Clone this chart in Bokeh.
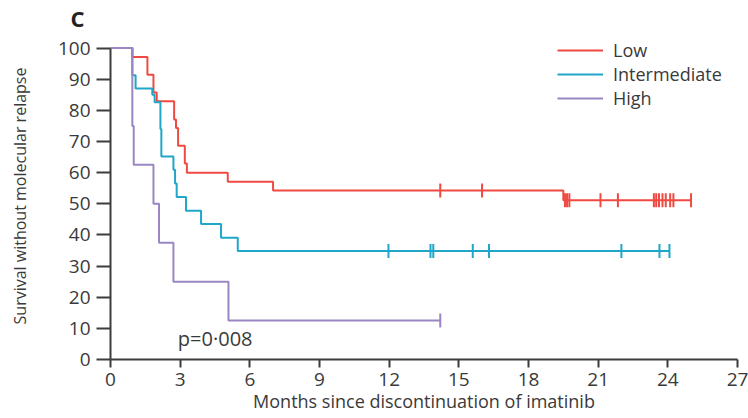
import numpy as np
from bokeh.plotting import figure
from bokeh.models import Range1d, FixedTicker, Legend, LegendItem, Label
from bokeh.embed import file_html
from bokeh.resources import INLINE

# ---- data ----
groups = ["Low", "Intermediate", "High"]
colors = ["#ef4a42", "#1fa6c8", "#9a86c2"]

low_t = [0, 0.94, 1.59, 1.85, 1.99, 2.74, 2.82, 2.91, 3.2, 3.29, 5.05, 7.0, 19.5, 25.0]
low_s = [100, 97.1, 91.4, 85.7, 82.9, 77.1, 74.3, 68.6, 62.9, 60.0, 57.1, 54.3, 51.1, 51.1]
low_cens = [14.2, 16.0, 19.57, 19.66, 19.76, 21.1, 21.85, 23.4, 23.5, 23.62,
            23.77, 23.91, 24.1, 24.24, 25.0]

int_t = [0, 0.94, 1.08, 1.8, 1.9, 2.15, 2.19, 2.71, 2.78, 2.85, 3.25, 3.9, 4.76, 5.48, 24.07]
int_s = [100, 91.3, 87.0, 85.0, 82.6, 74.0, 65.2, 60.9, 56.5, 52.2, 47.8, 43.5, 39.1, 34.8, 34.8]
int_cens = [11.97, 13.78, 13.9, 15.6, 16.3, 22.0, 23.64, 24.07]

high_t = [0, 0.94, 1.0, 1.85, 2.09, 2.71, 5.08, 14.2]
high_s = [100, 75.0, 62.5, 50.0, 37.5, 25.0, 12.5, 12.5]
high_cens = [14.2]

x_ticks = [0, 3, 6, 9, 12, 15, 18, 21, 24, 27]
y_ticks = [0, 10, 20, 30, 40, 50, 60, 70, 80, 90, 100]

p_text = "p=0·008"
panel_letter = "C"
x_title = "Months since discontinuation of imatinib"
y_title = "Survival without molecular relapse"

FONT = "Open Sans"
TXT = "#3a3a3a"
AX = "#3c3c3c"

p = figure(width=748, height=418, output_backend="svg", toolbar_location=None,
           x_range=Range1d(0, 27), y_range=Range1d(0, 105))
p.min_border_left = 110
p.min_border_right = 11
p.min_border_top = 32
p.min_border_bottom = 59
p.outline_line_color = None
p.grid.visible = False
p.background_fill_color = "white"
p.border_fill_color = "white"

p.title.text = panel_letter
p.title.align = "left"
p.title.offset = -40
p.title.standoff = 0
p.title.text_font = FONT
p.title.text_font_size = "22px"
p.title.text_font_style = "bold"
p.title.text_color = "#222222"

for ax, ticks, tout, sto in ((p.xaxis[0], x_ticks, 8, 5), (p.yaxis[0], y_ticks, 14, 6)):
    ax.ticker = FixedTicker(ticks=ticks)
    ax.minor_tick_line_color = None
    ax.major_tick_in = 0
    ax.major_tick_out = tout
    ax.major_label_standoff = sto
    ax.axis_line_color = AX
    ax.axis_line_width = 2
    ax.major_tick_line_color = AX
    ax.major_tick_line_width = 2
    ax.major_label_text_font = FONT
    ax.major_label_text_font_size = "19px"
    ax.major_label_text_color = TXT
    ax.axis_label_text_font = FONT
    ax.axis_label_text_font_style = "normal"
    ax.axis_label_text_color = TXT

p.xaxis[0].bounds = (0, 27)
p.yaxis[0].bounds = (0, 100)
p.yaxis[0].axis_label = y_title
p.yaxis[0].axis_label_text_font_size = "16px"
p.yaxis[0].axis_label_standoff = 24
p.xaxis[0].axis_label = x_title
p.xaxis[0].axis_label_text_font_size = "18px"
p.xaxis[0].axis_label_standoff = 0


def step_at(ts, ss, t):
    i = np.searchsorted(np.asarray(ts), np.asarray(t), side="right") - 1
    return np.asarray(ss)[i]


series = [(low_t, low_s, low_cens), (int_t, int_s, int_cens), (high_t, high_s, high_cens)]
items = []
for name, col, (ts, ss, cens) in zip(groups, colors, series):
    r = p.step(ts, ss, mode="after", line_color=col, line_width=2)
    p.scatter(cens, step_at(ts, ss, cens), marker="dash", angle=np.pi / 2,
              size=14, line_color=col, line_width=2)
    items.append(LegendItem(label=name, renderers=[r]))

legend = Legend(items=items, location=(447, 249), padding=0, margin=0,
                spacing=0, glyph_width=46, glyph_height=24, label_height=24,
                label_standoff=10, border_line_color=None,
                background_fill_alpha=0)
legend.label_text_font = FONT
legend.label_text_font_size = "18px"
legend.label_text_color = TXT
p.add_layout(legend, "center")

p.add_layout(Label(x=2.9, y=6.75, text=p_text, text_baseline="middle",
                   text_font=FONT, text_font_size="20px", text_color=TXT))

open("out.html", "w").write(file_html(p, INLINE))
